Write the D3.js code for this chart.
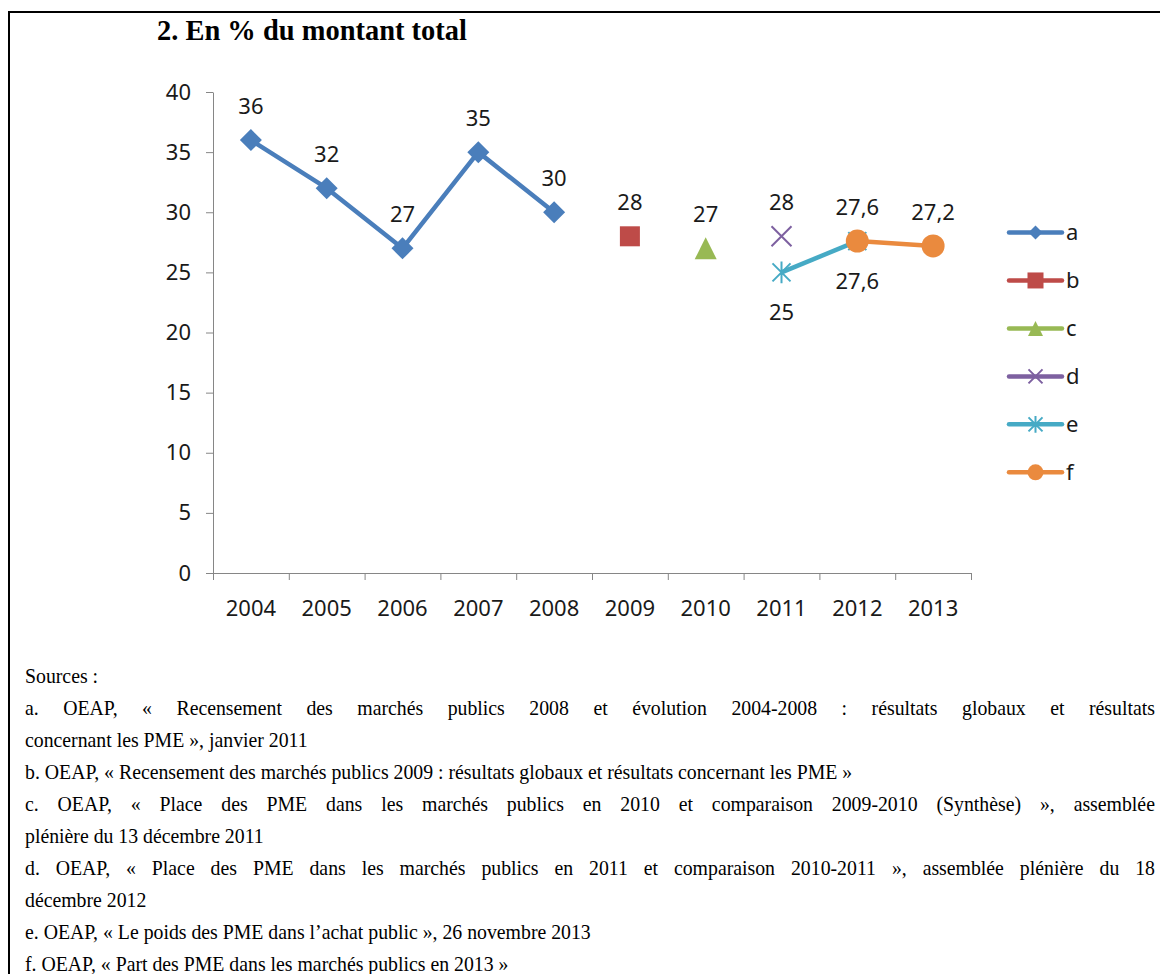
<!DOCTYPE html>
<html><head><meta charset="utf-8">
<script src="https://cdn.jsdelivr.net/npm/d3@7"></script>
<style>
html,body{margin:0;padding:0;background:#fff;}
svg{display:block;}
</style></head>
<body>
<svg id="chart" width="1160" height="974"></svg>
<script>
// ---- data ----
const years = ["2004","2005","2006","2007","2008","2009","2010","2011","2012","2013"];
const yTicks = [0,5,10,15,20,25,30,35,40];
const seriesNames = ["a","b","c","d","e","f"];
const aYears = ["2004","2005","2006","2007","2008"];
const aValues = [36,32,27,35,30];
const bYears = ["2009"];
const bValues = [28];
const cYears = ["2010"];
const cValues = [27];
const dYears = ["2011"];
const dValues = [28];
const eYears = ["2011","2012"];
const eValues = [25,27.6];
const fYears = ["2012","2013"];
const fValues = [27.6,27.2];
const labelSide = ["above","above","above","above","below","above"];
const colors = ["#4A7EBB","#BE4B48","#98B954","#7D60A0","#46AAC5","#EA8A3E"];
const markers = ["diamond","square","triangle","cross","star","circle"];
const title = "2. En % du montant total";
const sourceLines = [
  ["Sources :", false],
  ["a. OEAP, « Recensement des marchés publics 2008 et évolution 2004-2008 : résultats globaux et résultats", true],
  ["concernant les PME », janvier 2011", false],
  ["b. OEAP, « Recensement des marchés publics 2009 : résultats globaux et résultats concernant les PME »", false],
  ["c. OEAP, « Place des PME dans les marchés publics en 2010 et comparaison 2009-2010 (Synthèse) », assemblée", true],
  ["plénière du 13 décembre 2011", false],
  ["d. OEAP, « Place des PME dans les marchés publics en 2011 et comparaison 2010-2011 », assemblée plénière du 18", true],
  ["décembre 2012", false],
  ["e. OEAP, « Le poids des PME dans l’achat public », 26 novembre 2013", false],
  ["f. OEAP, « Part des PME dans les marchés publics en 2013 »", false]
];

const series = [
  {name:"a", years:aYears, values:aValues},
  {name:"b", years:bYears, values:bValues},
  {name:"c", years:cYears, values:cValues},
  {name:"d", years:dYears, values:dValues},
  {name:"e", years:eYears, values:eValues},
  {name:"f", years:fYears, values:fValues}
].map((s,i)=>({...s, color:colors[i], marker:markers[i], side:labelSide[i]}));

// ---- layout ----
const svg = d3.select("#chart");
const sansFont = "'Noto Sans', 'Open Sans', sans-serif";
const serifFont = "'Liberation Serif', 'DejaVu Serif', serif";
const axisColor = "#868686";
const textColor = "#1a1a1a";
const plotL = 213, plotR = 971, plotT = 92, plotB = 573;

const x = d3.scaleBand().domain(years).range([plotL, plotR]).padding(0);
const xc = d => x(d) + x.bandwidth()/2;
const y = d3.scaleLinear().domain([0,40]).range([plotB, plotT]);
const fmt = v => Number.isInteger(v) ? String(v) : v.toFixed(1).replace(".", ",");

// frame
svg.append("line").attr("x1",9).attr("x2",1160).attr("y1",12).attr("y2",12).attr("stroke","#000").attr("stroke-width",2);
svg.append("line").attr("x1",9).attr("x2",9).attr("y1",11).attr("y2",974).attr("stroke","#000").attr("stroke-width",2);

// title
const tt = svg.append("text").attr("x",157).attr("y",40)
  .attr("font-family",serifFont).attr("font-weight","bold").attr("font-size",24).attr("fill","#000").text(title);
{
  const w = tt.node().getComputedTextLength();
  tt.attr("font-size", 24*310/w);
}

// y axis
const yAxis = svg.append("g").attr("transform",`translate(${plotL},0)`)
  .call(d3.axisLeft(y).tickValues(yTicks).tickSize(7).tickPadding(15).tickSizeOuter(0));
yAxis.select(".domain").attr("stroke",axisColor);
yAxis.selectAll(".tick line").attr("stroke",axisColor);
yAxis.selectAll("text").attr("font-family",sansFont).attr("font-size",22).attr("fill",textColor);

// x axis: boundary ticks
const xb = d3.scaleLinear().domain([0,years.length]).range([plotL,plotR]);
const xAxis = svg.append("g").attr("transform",`translate(0,${plotB})`)
  .call(d3.axisBottom(xb).tickValues(d3.range(years.length+1)).tickSize(7).tickFormat("").tickSizeOuter(0));
xAxis.select(".domain").attr("stroke",axisColor);
xAxis.selectAll(".tick line").attr("stroke",axisColor);
svg.append("g").selectAll("text").data(years).join("text")
  .attr("x", d=>xc(d)).attr("y", 616).attr("text-anchor","middle")
  .attr("font-family",sansFont).attr("font-size",22).attr("fill",textColor).text(d=>d);

// markers
function drawMarker(g, type, cx, cy, color, s){
  if(type==="diamond"){
    g.append("path").attr("d",`M${cx},${cy-s}L${cx+s},${cy}L${cx},${cy+s}L${cx-s},${cy}Z`).attr("fill",color);
  } else if(type==="square"){
    g.append("rect").attr("x",cx-s).attr("y",cy-s).attr("width",2*s).attr("height",2*s).attr("fill",color);
  } else if(type==="triangle"){
    g.append("path").attr("d",`M${cx},${cy-s}L${cx+s},${cy+s}L${cx-s},${cy+s}Z`).attr("fill",color);
  } else if(type==="cross"){
    g.append("path").attr("d",`M${cx-s},${cy-s}L${cx+s},${cy+s}M${cx+s},${cy-s}L${cx-s},${cy+s}`)
      .attr("stroke",color).attr("stroke-width",2).attr("fill","none");
  } else if(type==="star"){
    g.append("path").attr("d",`M${cx-s},${cy-s}L${cx+s},${cy+s}M${cx+s},${cy-s}L${cx-s},${cy+s}M${cx},${cy-s*1.2}L${cx},${cy+s*1.2}`)
      .attr("stroke",color).attr("stroke-width",2).attr("fill","none");
  } else if(type==="circle"){
    g.append("circle").attr("cx",cx).attr("cy",cy).attr("r",s).attr("fill",color);
  }
}
const markerSize = {diamond:11, square:10, triangle:11, cross:10, star:9, circle:11.5};
const legendSize = {diamond:7, square:8, triangle:7.5, cross:7, star:7, circle:8};

const line = d3.line().x(d=>xc(d.year)).y(d=>y(d.value));
const plotG = svg.append("g");
series.forEach(s=>{
  const pts = s.years.map((yr,i)=>({year:yr, value:s.values[i]}));
  const g = plotG.append("g");
  if(pts.length>1){
    g.append("path").datum(pts).attr("d",line).attr("fill","none")
      .attr("stroke",s.color).attr("stroke-width",4.5).attr("stroke-linejoin","round");
  }
  pts.forEach(p=>drawMarker(g, s.marker, xc(p.year), y(p.value), s.color, markerSize[s.marker]));
});
// data labels
series.forEach(s=>{
  s.years.forEach((yr,i)=>{
    const v = s.values[i];
    const yy = s.side==="above" ? y(v)-26 : y(v)+48;
    svg.append("text").attr("x",xc(yr)).attr("y",yy).attr("text-anchor","middle")
      .attr("font-family",sansFont).attr("font-size",22).attr("fill",textColor).text(fmt(v));
  });
});

// legend
const legY = d3.scalePoint().domain(seriesNames).range([232.5, 472.3]);
const lg = svg.append("g");
series.forEach(s=>{
  const cy = legY(s.name);
  lg.append("line").attr("x1",1009).attr("x2",1062).attr("y1",cy).attr("y2",cy)
    .attr("stroke",s.color).attr("stroke-width",4.5).attr("stroke-linecap","round");
  drawMarker(lg, s.marker, 1035.5, cy, s.color, legendSize[s.marker]);
  lg.append("text").attr("x",1066).attr("y",cy).attr("dy","0.36em")
    .attr("font-family",sansFont).attr("font-size",22).attr("fill",textColor).text(s.name);
});

// sources: serif text, horizontally scaled to match the original wider face
const srcFs = 22;
const srcG = svg.append("g");
const measure = (str) => {
  const p = srcG.append("text").attr("font-family",serifFont).attr("font-size",srcFs).text(str);
  const w = p.node().getComputedTextLength();
  p.remove();
  return w;
};
const sx = 828/measure(sourceLines[3][0]);
const spaceW = measure("a a") - measure("aa");
sourceLines.forEach((ln,i)=>{
  const t = srcG.append("text")
    .attr("transform",`translate(25,${683+32*i}) scale(${sx},1)`)
    .attr("font-family",serifFont).attr("font-size",srcFs).attr("fill","#000");
  if(ln[1]){
    const words = ln[0].split(" ");
    const widths = words.map(measure);
    const total = d3.sum(widths);
    const gap = ((1155-25)/sx - total)/(words.length-1);
    let pos = 0;
    words.forEach((wd,j)=>{
      t.append("tspan").attr("x",pos).attr("y",0).text(wd);
      pos += widths[j] + gap;
    });
  } else {
    t.attr("x",0).attr("y",0).text(ln[0]);
  }
});
</script>
</body></html>
